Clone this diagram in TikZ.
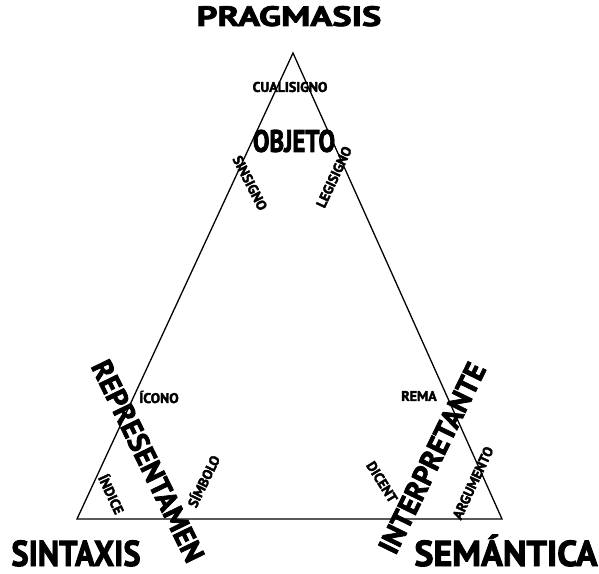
\documentclass[tikz,border=0pt]{standalone}
\usepackage{fontspec}
\newfontfamily\signfont{PT Sans}[BoldFeatures={FakeBold=2.6}]
\usepackage{tikz}
\usetikzlibrary{positioning}

\begin{document}
\begin{tikzpicture}[x=1pt, y=1pt,
  lbl/.style={font=\signfont\bfseries\fontsize{14}{14}\selectfont, inner sep=0pt},
  big/.style={font=\signfont\bfseries\fontsize{29}{29}\selectfont, inner sep=0pt},
  title/.style={font=\signfont\bfseries\fontsize{36}{36}\selectfont, inner sep=0pt, anchor=base},
  side/.style={line width=1.3pt, line join=miter},
]
\useasboundingbox (0,0) rectangle (599,573);
% vertices
\coordinate (prag) at (293,520);
\coordinate (sint) at (77,54);
\coordinate (sem) at (502,54);
\draw[side] (prag) -- (sint) -- (sem) -- cycle;
% corners
\node[title, font=\signfont\bfseries\fontsize{28}{28}\selectfont, xscale=1.3] (pragmasis) at (289,547) {PRAGMASIS};
\node[title, xscale=0.9] (sintaxis) at (76,7) {SINTAXIS};
\node[title] (semantica) at (506,7) {SEMÁNTICA};
% objeto
\node[lbl] (cualisigno) at (290,486) {CUALISIGNO};
\node[big, font=\signfont\bfseries\fontsize{31}{31}\selectfont, xscale=0.8] (objeto) at (294,432) {OBJETO};
\node[lbl, rotate=-63] (sinsigno) at (250,390) {SINSIGNO};
\node[lbl, rotate=65] (legisigno) at (334,396) {LEGISIGNO};
% representamen
\node[lbl] (icono) at (159,176) {ÍCONO};
\node[big, rotate=-64] (representamen) at (148,112) {REPRESENTAMEN};
\node[lbl, rotate=-65] (indice) at (112,79) {ÍNDICE};
\node[lbl, rotate=64] (simbolo) at (203,92) {SÍMBOLO};
% interpretante
\node[lbl] (rema) at (419,177) {REMA};
\node[big, rotate=64] (interpretante) at (432,115) {INTERPRETANTE};
\node[lbl, rotate=-58] (dicent) at (382,91) {DICENT};
\node[lbl, rotate=65] (argumento) at (473,90) {ARGUMENTO};
\end{tikzpicture}
\end{document}
